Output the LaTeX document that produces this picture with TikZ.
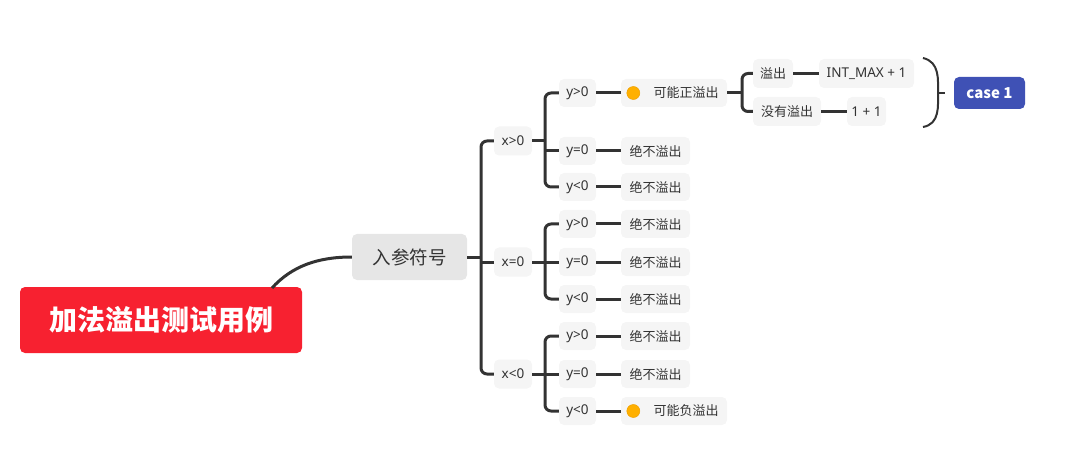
\documentclass[tikz,border=0pt]{standalone}
\usepackage{fontspec}
\setmainfont{Noto Sans CJK SC}
\newfontfamily\cjk{Noto Sans CJK SC}
\newfontfamily\lat{Noto Sans}
\usetikzlibrary{calc}
\definecolor{conn}{HTML}{333333}
\definecolor{rootred}{HTML}{F72130}
\definecolor{caseblue}{HTML}{3F51B5}
\definecolor{lightbox}{HTML}{F5F5F5}
\definecolor{midbox}{HTML}{E6E6E6}
\definecolor{dotorange}{HTML}{FFB000}
\definecolor{dotedge}{HTML}{F0A000}
\tikzset{
  link/.style={draw=conn, line width=3pt},
  br/.style={draw=conn, line width=3pt, rounded corners=6pt},
  leaf/.style={fill=lightbox, rounded corners=5pt, inner sep=0pt, text=conn, font=\cjk\fontsize{13}{15}\selectfont, minimum height=28pt},
  latleaf/.style={leaf, font=\lat\fontsize{13.5}{15}\selectfont},
  mid/.style={fill=midbox, rounded corners=5pt, inner sep=0pt, text=conn, font=\cjk\fontsize{18.5}{21}\selectfont, minimum width=115pt, minimum height=46pt},
  rootbox/.style={fill=rootred, rounded corners=5pt, inner sep=0pt, text=white, font=\cjk\bfseries\fontsize{28}{31}\selectfont, minimum width=282pt, minimum height=66pt},
  casebox/.style={fill=caseblue, rounded corners=5pt, inner sep=0pt, text=white, font=\cjk\bfseries\fontsize{15}{18}\selectfont, minimum width=71pt, minimum height=32pt},
  dot/.style={fill=dotorange, draw=dotedge, line width=0.5pt}
}
\begin{document}
\begin{tikzpicture}[x=1pt,y=-1pt]
\useasboundingbox (0,0) rectangle (1079,473);
% root and level 1
\node[rootbox] (root) at (161,320) {加法溢出测试用例};
\node[mid] (inp) at (409.5,257) {入参符号};
% x nodes
\node[latleaf, minimum width=38pt, minimum height=29pt] (xa) at (513,141) {x>0};
\node[latleaf, minimum width=38pt, minimum height=29pt] (xb) at (513,262) {x=0};
\node[latleaf, minimum width=38pt, minimum height=29pt] (xc) at (513,374) {x<0};
% y nodes
\node[latleaf, minimum width=37pt] (ya1) at (577.5,93) {y>0};
\node[latleaf, minimum width=37pt] (ya2) at (577.5,151) {y=0};
\node[latleaf, minimum width=37pt] (ya3) at (577.5,187) {y<0};
\node[latleaf, minimum width=37pt] (yb1) at (577.5,224) {y>0};
\node[latleaf, minimum width=37pt] (yb2) at (577.5,262) {y=0};
\node[latleaf, minimum width=37pt] (yb3) at (577.5,299) {y<0};
\node[latleaf, minimum width=37pt] (yc1) at (577.5,336) {y>0};
\node[latleaf, minimum width=37pt] (yc2) at (577.5,374) {y=0};
\node[latleaf, minimum width=37pt] (yc3) at (577.5,411) {y<0};
% results
\node[leaf, minimum width=106pt] (ra1) at (674,93) {\hspace{24pt}可能正溢出};
\node[leaf, minimum width=69pt] (ra2) at (655.5,151) {绝不溢出};
\node[leaf, minimum width=69pt] (ra3) at (655.5,187) {绝不溢出};
\node[leaf, minimum width=69pt] (rb1) at (655.5,224) {绝不溢出};
\node[leaf, minimum width=69pt] (rb2) at (655.5,262) {绝不溢出};
\node[leaf, minimum width=69pt] (rb3) at (655.5,299) {绝不溢出};
\node[leaf, minimum width=69pt] (rc1) at (655.5,336) {绝不溢出};
\node[leaf, minimum width=69pt] (rc2) at (655.5,374) {绝不溢出};
\node[leaf, minimum width=106pt] (rc3) at (674,411) {\hspace{24pt}可能负溢出};
\filldraw[dot] ($(ra1.west)+(12.5,0)$) circle (6.5pt);
\filldraw[dot] ($(rc3.west)+(12.5,0)$) circle (6.5pt);
% overflow detail
\node[leaf, minimum width=40pt, minimum height=29pt] (of) at (773,73.5) {溢出};
\node[leaf, minimum width=68pt, minimum height=29pt] (nof) at (787,111.5) {没有溢出};
\node[latleaf, minimum width=95pt, minimum height=29pt] (im) at (866.5,73.5) {INT\_MAX + 1};
\node[latleaf, minimum width=39pt, minimum height=29pt] (oo) at (866.5,111.5) {1 + 1};
\node[casebox] (case) at (989.5,93) {case 1};
% root to inp
\coordinate (rs) at (272,288);
\draw[link] (rs) .. controls (292,266) and (318,257) .. (inp.west);
% inp bracket
\coordinate (bx0) at (481,257);
\draw[link] (inp.east) -- (bx0);
\draw[br] (xa.west) -| (bx0) |- (xc.west);
\draw[link] (bx0 |- xb.west) -- (xb.west);
% x>0 bracket
\coordinate (bxa) at (545,141);
\draw[link] (xa.east) -- (bxa);
\draw[br] (ya1.west) -| (bxa) |- (ya3.west);
\draw[link] (bxa |- ya2.west) -- (ya2.west);
% x=0 bracket
\coordinate (bxb) at (545,262);
\draw[link] (xb.east) -- (bxb);
\draw[br] (yb1.west) -| (bxb) |- (yb3.west);
\draw[link] (bxb |- yb2.west) -- (yb2.west);
% x<0 bracket
\coordinate (bxc) at (545,374);
\draw[link] (xc.east) -- (bxc);
\draw[br] (yc1.west) -| (bxc) |- (yc3.west);
\draw[link] (bxc |- yc2.west) -- (yc2.west);
% y to results
\foreach \a/\b in {ya1/ra1,ya2/ra2,ya3/ra3,yb1/rb1,yb2/rb2,yb3/rb3,yc1/rc1,yc2/rc2,yc3/rc3}
  \draw[link] (\a.east) -- (\a.east -| \b.west);
% overflow bracket
\coordinate (bxd) at (742,93);
\draw[link] (ra1.east) -- (bxd);
\draw[br] (of.west) -| (bxd) |- (nof.west);
\draw[link] (of.east) -- (im.west);
\draw[link] (nof.east) -- (oo.west);
% big parenthesis
\coordinate (pt) at (923,58);
\coordinate (pm) at (938,93);
\coordinate (pb) at (923,127);
\coordinate (pe) at (945,93);
\draw[draw=conn, line width=2pt] (pt) .. controls (940,62) and (938,80) .. (pm) .. controls (938,106) and (940,124) .. (pb);
\draw[draw=conn, line width=2pt] (pm) -- (pe);
\end{tikzpicture}
\end{document}
